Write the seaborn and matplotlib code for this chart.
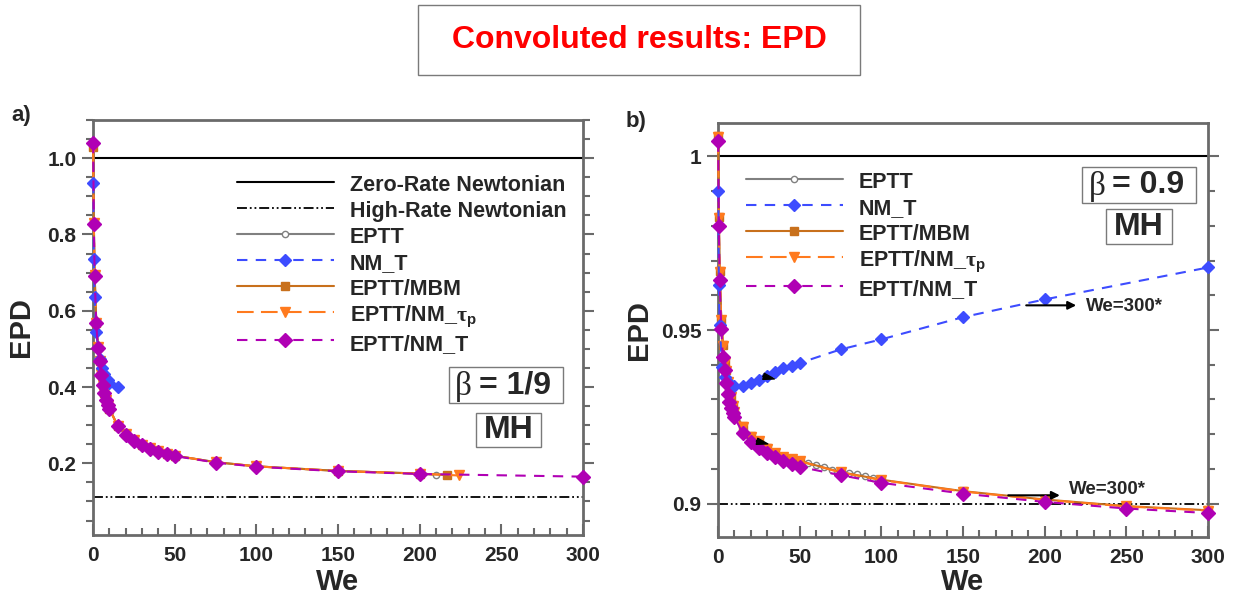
import matplotlib
matplotlib.use("Agg")
import matplotlib.pyplot as plt
import seaborn as sns
import pandas as pd
from matplotlib.patches import Rectangle
from matplotlib.ticker import MultipleLocator, FuncFormatter

sns.set_style("white")
plt.rcParams["font.family"] = ["Liberation Sans", "DejaVu Sans"]
plt.rcParams["font.weight"] = "bold"
plt.rcParams["mathtext.fontset"] = "custom"
plt.rcParams["mathtext.rm"] = "Liberation Sans:bold"
plt.rcParams["mathtext.it"] = "Liberation Serif"

# ---------------- beta = 1/9 ----------------
a_we_nmT2 = [0.1, 0.5, 1, 2, 3, 4, 5, 6, 7, 8, 9, 10, 15, 20, 25, 30, 35, 40, 45, 50, 75, 100, 150, 200, 300]
a_epd_nmT2 = [1.040, 0.827, 0.691, 0.567, 0.502, 0.467, 0.432, 0.405, 0.384, 0.366, 0.353, 0.342, 0.298, 0.275,
              0.259, 0.248, 0.238, 0.230, 0.224, 0.219, 0.202, 0.191, 0.179, 0.172, 0.165]

a_we_eptt = [0.1, 0.5, 1, 2, 3, 4, 5, 6, 7, 8, 9, 10, 15, 20, 25, 30, 35, 40, 45, 50, 75, 100, 150, 200, 210]
a_epd_eptt = [1.035, 0.830, 0.694, 0.570, 0.505, 0.469, 0.434, 0.407, 0.386, 0.368, 0.355, 0.344, 0.300, 0.277,
              0.261, 0.249, 0.239, 0.231, 0.225, 0.220, 0.203, 0.192, 0.180, 0.173, 0.170]

a_we_mbm = [0.1, 0.5, 1, 2, 3, 4, 5, 6, 7, 8, 9, 10, 15, 20, 25, 30, 35, 40, 45, 50, 75, 100, 150, 200, 217]
a_epd_mbm = [1.030, 0.829, 0.693, 0.569, 0.504, 0.468, 0.433, 0.406, 0.385, 0.367, 0.354, 0.343, 0.299, 0.276,
             0.260, 0.249, 0.239, 0.231, 0.225, 0.220, 0.203, 0.192, 0.180, 0.173, 0.169]

a_we_nmtau = [0.1, 0.5, 1, 2, 3, 4, 5, 6, 7, 8, 9, 10, 15, 20, 25, 30, 35, 40, 45, 50, 75, 100, 150, 200, 224]
a_epd_nmtau = [1.030, 0.829, 0.693, 0.569, 0.504, 0.468, 0.433, 0.406, 0.385, 0.367, 0.354, 0.343, 0.299, 0.276,
               0.260, 0.249, 0.239, 0.231, 0.225, 0.220, 0.203, 0.192, 0.180, 0.173, 0.168]

a_we_nmT = [0.2, 0.5, 1, 2, 4, 5.5, 7, 9, 10, 15]
a_epd_nmT = [0.935, 0.735, 0.635, 0.545, 0.473, 0.449, 0.434, 0.418, 0.411, 0.399]

a_zero_rate = 1.0
a_high_rate = 1 / 9

# ---------------- beta = 0.9 ----------------
b_we_nmT2 = [0.1, 0.5, 1, 2, 3, 4, 5, 6, 7, 8, 9, 10, 15, 20, 25, 30, 35, 40, 45, 50, 75, 100, 150, 200, 250, 300]
b_epd_nmT2 = [1.0043, 0.9800, 0.9645, 0.9504, 0.9422, 0.9384, 0.9346, 0.9317, 0.9293, 0.9274, 0.9262, 0.9250,
              0.9204, 0.9178, 0.9159, 0.9146, 0.9134, 0.9123, 0.9115, 0.9106, 0.9082, 0.9060, 0.9029, 0.9005,
              0.8986, 0.8973]

b_we_eptt = [0.1, 0.5, 1, 2, 3, 4, 5, 6, 7, 8, 9, 10, 15, 20, 25, 30, 35, 40, 45, 50,
             55, 60, 65, 70, 75, 80, 85, 90, 95, 100]
b_epd_eptt = [1.0056, 0.9825, 0.9670, 0.9530, 0.9456, 0.9408, 0.9384, 0.9350, 0.9326, 0.9307, 0.9283, 0.9265,
              0.9223, 0.9194, 0.9180, 0.9159, 0.9146, 0.9134, 0.9128, 0.9122, 0.9117, 0.9111, 0.9106, 0.9098,
              0.9091, 0.9088, 0.9085, 0.9079, 0.9075, 0.9070]

b_we_mbm = [0.1, 0.5, 1, 2, 3, 4, 5, 6, 7, 8, 9, 10, 15, 20, 25, 30, 35, 40, 45, 50, 75, 100, 150, 200, 250, 300]
b_epd_mbm = [1.0058, 0.9825, 0.9670, 0.9530, 0.9456, 0.9408, 0.9384, 0.9350, 0.9326, 0.9307, 0.9283, 0.9265,
             0.9223, 0.9194, 0.9180, 0.9159, 0.9146, 0.9134, 0.9130, 0.9123, 0.9091, 0.9069, 0.9036, 0.9012,
             0.8993, 0.8981]

b_we_nmtau = [0.1, 0.5, 1, 2, 3, 4, 5, 6, 7, 8, 9, 10, 15, 20, 25, 30, 35, 40, 45, 50, 75, 100, 150, 200, 250, 300]
b_epd_nmtau = [1.0056, 0.9823, 0.9668, 0.9528, 0.9455, 0.9407, 0.9383, 0.9349, 0.9325, 0.9306, 0.9282, 0.9264,
               0.9222, 0.9193, 0.9179, 0.9158, 0.9145, 0.9133, 0.9129, 0.9122, 0.9090, 0.9068, 0.9035, 0.9011,
               0.8992, 0.8980]

b_we_nmT = [0.25, 0.5, 1, 2.5, 4.5, 7, 10, 15, 20, 25, 30, 35, 40, 45, 50, 75, 100, 150, 200, 300]
b_epd_nmT = [0.9899, 0.9630, 0.9514, 0.9393, 0.9365, 0.9346, 0.9338, 0.9338, 0.9346, 0.9357, 0.9367, 0.9379,
             0.9391, 0.9396, 0.9405, 0.9444, 0.9473, 0.9537, 0.9588, 0.9680]

b_zero_rate = 1.0
b_high_rate = 0.9

# ---------------- styling ----------------
GRAY = "#808080"
BLUE = "#3D4CFF"
BROWN = "#C8701C"
ORANGE = "#FF7A1E"
PURPLE = "#B000B4"
AXIS_GRAY = "#6A6A6A"
DASH_DOT_DOT = (0, (5.5, 1.6, 1.0, 1.6, 1.0, 1.6))

LABELS = {
    "zero": "Zero-Rate Newtonian",
    "high": "High-Rate Newtonian",
    "eptt": "EPTT",
    "nmT": "NM_T",
    "mbm": "EPTT/MBM",
    "nmtau": r"EPTT/NM_$\mathit{\tau}_{\mathregular{p}}$",
    "nmT2": "EPTT/NM_T",
}

W, H = 1235, 599
fig = plt.figure(figsize=(W / 100, H / 100), dpi=100)


def fx(px):
    return px / W


def fy(py):
    return 1 - py / H


def draw_series(ax, we, epd, color, ls, marker, ms, label, mfc=None, z=3):
    df = pd.DataFrame({"We": we, "EPD": epd})
    sns.lineplot(data=df, x="We", y="EPD", ax=ax, color=color, linestyle=ls, lw=1.5,
                 marker=marker, markersize=ms, markerfacecolor=mfc if mfc else color,
                 markeredgecolor=color, markeredgewidth=1.0, label=label,
                 errorbar=None, estimator=None, clip_on=False, zorder=z)


def style_axes(ax, ylim, ymajor, yminor, yfmt):
    ax.set_xlim(0, 300)
    ax.set_ylim(*ylim)
    ax.xaxis.set_major_locator(MultipleLocator(50))
    ax.xaxis.set_minor_locator(MultipleLocator(10))
    ax.yaxis.set_major_locator(MultipleLocator(ymajor))
    ax.yaxis.set_minor_locator(MultipleLocator(yminor))
    ax.yaxis.set_major_formatter(FuncFormatter(yfmt))
    for sp in ax.spines.values():
        sp.set_color(AXIS_GRAY)
        sp.set_linewidth(2)
    ax.tick_params(axis="x", which="both", direction="in", bottom=True, top=False,
                   color=AXIS_GRAY, width=1.5, labelsize=15, pad=8)
    ax.tick_params(axis="x", which="major", length=8)
    ax.tick_params(axis="x", which="minor", length=5)
    ax.tick_params(axis="y", which="both", direction="out", left=True, right=True,
                   color=AXIS_GRAY, width=1.5, labelsize=15, pad=4)
    ax.tick_params(axis="y", which="major", length=8)
    ax.tick_params(axis="y", which="minor", length=5)
    for t in ax.get_xticklabels() + ax.get_yticklabels():
        t.set_fontweight("bold")
    ax.set_xlabel("We", fontsize=21, fontweight="bold")
    ax.set_ylabel("EPD", fontsize=21, fontweight="bold")


def boxed_text(x0, y0, x1, y1):
    fig.add_artist(Rectangle((fx(x0), fy(y1)), (x1 - x0) / W, (y1 - y0) / H,
                             transform=fig.transFigure, facecolor="white",
                             edgecolor="#7A7A7A", lw=1.0, zorder=5))


LEGEND_KW = dict(loc="upper left", frameon=False, prop={"weight": "bold", "size": 15.5},
                 handlelength=4.5, handletextpad=0.75, handleheight=1.2,
                 labelspacing=0.12, borderpad=0, borderaxespad=0, numpoints=1)

# ---------------- panel a ----------------
ax_a = fig.add_axes([fx(93), fy(535), 490 / W, 415 / H])
ax_a.axhline(a_zero_rate, color="black", lw=1.5, label=LABELS["zero"], zorder=2)
ax_a.axhline(a_high_rate, color="black", lw=1.3, ls=DASH_DOT_DOT, label=LABELS["high"], zorder=2)
draw_series(ax_a, a_we_eptt, a_epd_eptt, GRAY, "-", "o", 4.5, LABELS["eptt"], mfc="white")
draw_series(ax_a, a_we_mbm, a_epd_mbm, BROWN, "-", "s", 5.5, LABELS["mbm"])
draw_series(ax_a, a_we_nmtau, a_epd_nmtau, ORANGE, (0, (8, 3.5)), "v", 6.5, LABELS["nmtau"])
draw_series(ax_a, a_we_nmT, a_epd_nmT, BLUE, (0, (5, 4)), "D", 6.5, LABELS["nmT"])
draw_series(ax_a, a_we_nmT2, a_epd_nmT2, PURPLE, (0, (5, 4)), "D", 7.5, LABELS["nmT2"], z=4)
style_axes(ax_a, (0.012, 1.10), 0.2, 0.05, lambda v, p: f"{v:.1f}")
ax_a.xaxis.set_label_coords(0.5, (535 - 568) / 415)
ax_a.yaxis.set_label_coords((35 - 93) / 490, 0.5)

h, l = ax_a.get_legend_handles_labels()
order_a = [LABELS[k] for k in ["zero", "high", "eptt", "nmT", "mbm", "nmtau", "nmT2"]]
hmap = dict(zip(l, h))
ax_a.legend([hmap[k] for k in order_a], order_a,
            bbox_to_anchor=((237 - 93) / 490, (535 - 173) / 415), **LEGEND_KW)

# ---------------- panel b ----------------
ax_b = fig.add_axes([fx(718), fy(537), 490 / W, 414 / H])
ax_b.axhline(b_zero_rate, color="black", lw=1.5, zorder=2)
ax_b.axhline(b_high_rate, color="black", lw=1.3, ls=DASH_DOT_DOT, zorder=2)
draw_series(ax_b, b_we_eptt, b_epd_eptt, GRAY, "-", "o", 4.5, LABELS["eptt"], mfc="white")
draw_series(ax_b, b_we_mbm, b_epd_mbm, BROWN, "-", "s", 6, LABELS["mbm"])
draw_series(ax_b, b_we_nmtau, b_epd_nmtau, ORANGE, (0, (8, 3.5)), "v", 7, LABELS["nmtau"])
draw_series(ax_b, b_we_nmT, b_epd_nmT, BLUE, (0, (5, 4)), "D", 6.5, LABELS["nmT"])
draw_series(ax_b, b_we_nmT2, b_epd_nmT2, PURPLE, (0, (5, 4)), "D", 7.5, LABELS["nmT2"], z=4)
style_axes(ax_b, (0.8904, 1.0096), 0.05, 0.01, lambda v, p: f"{v:g}")
ax_b.xaxis.set_label_coords(0.5, (537 - 568) / 414)
ax_b.yaxis.set_label_coords((653 - 718) / 490, 0.5)

h, l = ax_b.get_legend_handles_labels()
order_b = [LABELS[k] for k in ["eptt", "nmT", "mbm", "nmtau", "nmT2"]]
hmap = dict(zip(l, h))
ax_b.legend([hmap[k] for k in order_b], order_b,
            bbox_to_anchor=((746 - 718) / 490, (537 - 170) / 414), **LEGEND_KW)

# "We=300*" call-outs
ax_b.annotate("", xy=(221, 0.9571), xytext=(187, 0.9571),
              arrowprops=dict(arrowstyle="-|>", color="black", lw=1.5, mutation_scale=12))
ax_b.text(225, 0.9567, "We=300*", fontsize=13.5, fontweight="bold", va="center", ha="left")
ax_b.annotate("", xy=(211, 0.9024), xytext=(176, 0.9024),
              arrowprops=dict(arrowstyle="-|>", color="black", lw=1.5, mutation_scale=12))
ax_b.text(215, 0.9040, "We=300*", fontsize=13.5, fontweight="bold", va="center", ha="left")

# small pointers on the curves
for (xa, ya), (xb, yb) in [((27.5, 0.9367), (34.5, 0.9359)), ((23.5, 0.9180), (30.5, 0.9172))]:
    ax_b.annotate("", xy=(xb, yb), xytext=(xa, ya),
                  arrowprops=dict(facecolor="black", edgecolor="black", width=0.1,
                                  headwidth=4.5, headlength=8, shrink=0), zorder=6)

# ---------------- boxes and captions ----------------
boxed_text(418, 5, 860, 75)
fig.text(fx(639), fy(40), "Convoluted results: EPD", color="#FF0000", fontsize=23,
         fontweight="bold", ha="center", va="center", zorder=6)

boxed_text(449, 367, 563, 403)
fig.text(fx(463), fy(386), "β", family="Liberation Serif", fontweight="normal",
         fontsize=24, ha="center", va="center", zorder=6)
fig.text(fx(479), fy(385), "= 1/9", fontsize=23, fontweight="bold", ha="left", va="center", zorder=6)
boxed_text(476, 413, 541, 447)
fig.text(fx(508.5), fy(430), "MH", fontsize=23, fontweight="bold", ha="center", va="center", zorder=6)

boxed_text(1082, 167, 1196, 203)
fig.text(fx(1097), fy(186), "β", family="Liberation Serif", fontweight="normal",
         fontsize=24, ha="center", va="center", zorder=6)
fig.text(fx(1112), fy(185), "= 0.9", fontsize=23, fontweight="bold", ha="left", va="center", zorder=6)
boxed_text(1106, 209, 1172, 244)
fig.text(fx(1139), fy(227), "MH", fontsize=23, fontweight="bold", ha="center", va="center", zorder=6)

fig.text(fx(11), fy(115), "a)", fontsize=16, fontweight="bold", ha="left", va="center")
fig.text(fx(626), fy(121), "b)", fontsize=16, fontweight="bold", ha="left", va="center")

fig.savefig("out.png", dpi=100, facecolor="white")
